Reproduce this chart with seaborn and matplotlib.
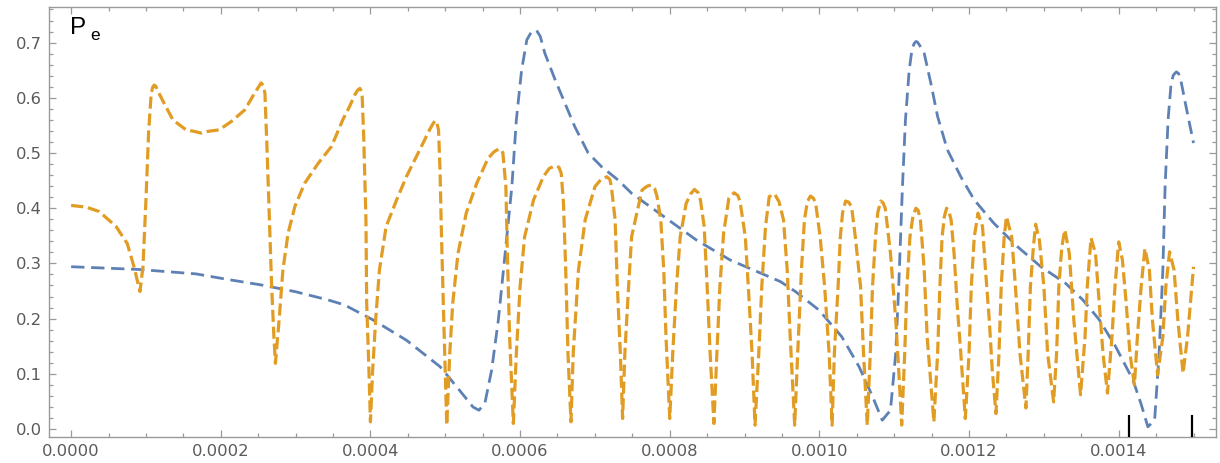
import numpy as np
import matplotlib
matplotlib.use("Agg")
import matplotlib.pyplot as plt
from matplotlib.ticker import MultipleLocator, FormatStrFormatter
import seaborn as sns

# Time axis values are listed in units of 1e-4
SCALE = 1e-4

# Blue curve (smooth, three resonant peaks)
blue_t = [0.00, 0.91, 1.67, 2.09, 2.54, 2.99, 3.43, 3.65, 4.03, 4.48, 4.93, 5.15,
          5.37, 5.45, 5.53, 5.62, 5.71, 5.80, 5.89, 5.95, 6.02, 6.09, 6.15, 6.20, 6.23,
          6.27, 6.33, 6.47, 6.60, 6.73, 6.91, 7.09, 7.31, 7.49, 7.92, 8.36, 8.81, 9.48,
          9.68, 9.99, 10.30, 10.53, 10.71, 10.84, 10.95, 11.02, 11.06, 11.11, 11.15,
          11.20, 11.24, 11.27, 11.29, 11.31, 11.34, 11.40, 11.49, 11.58, 11.71, 11.89,
          12.07, 12.33, 12.65, 12.96, 13.29, 13.52, 13.74, 13.96, 14.19, 14.30, 14.39,
          14.48, 14.54, 14.59, 14.62, 14.66, 14.70, 14.73, 14.77, 14.80, 14.83, 14.90,
          15.00]
blue_p = [0.294, 0.289, 0.281, 0.271, 0.261, 0.249, 0.234, 0.225, 0.198, 0.161, 0.113, 0.077,
          0.040, 0.034, 0.047, 0.107, 0.198, 0.318, 0.439, 0.560, 0.650, 0.705, 0.719, 0.723, 0.720,
          0.711, 0.681, 0.632, 0.590, 0.548, 0.500, 0.475, 0.451, 0.427, 0.385, 0.342, 0.306, 0.267,
          0.249, 0.216, 0.167, 0.113, 0.059, 0.016, 0.034, 0.137, 0.258, 0.439, 0.560,
          0.650, 0.690, 0.699, 0.702, 0.701, 0.695, 0.681, 0.626, 0.566, 0.506, 0.457,
          0.415, 0.373, 0.330, 0.294, 0.264, 0.234, 0.198, 0.149, 0.089, 0.045, 0.004,
          0.016, 0.137, 0.288, 0.439, 0.560, 0.626, 0.641, 0.647, 0.644, 0.632, 0.584,
          0.518]

# Orange curve (fast oscillation)
orange_t = [0.00, 0.20, 0.375, 0.60, 0.75, 0.84, 0.92, 0.96, 1.00, 1.035, 1.07, 1.09, 1.11,
            1.13, 1.16, 1.22, 1.36, 1.535, 1.65, 1.74, 1.82, 1.98, 2.14, 2.32, 2.45, 2.54,
            2.57, 2.59, 2.62, 2.65, 2.68, 2.71, 2.73, 2.78, 2.83, 2.90, 2.99, 3.12, 3.30,
            3.48, 3.63, 3.72, 3.79, 3.83, 3.86, 3.88, 3.89, 3.91, 3.94, 3.95, 3.98, 4.00,
            4.03, 4.07, 4.12, 4.21, 4.35, 4.48, 4.66, 4.79, 4.84, 4.87, 4.89, 4.91, 4.93,
            4.95, 4.98, 5.02, 5.06, 5.10, 5.17, 5.28, 5.42, 5.57, 5.65, 5.71, 5.75, 5.77,
            5.81, 5.83, 5.86, 5.91, 5.95, 6.00, 6.06, 6.18, 6.31, 6.39, 6.47, 6.52, 6.55,
            6.58, 6.61, 6.64, 6.68, 6.71, 6.78, 6.87, 7.00, 7.08, 7.16, 7.20, 7.22, 7.27,
            7.30, 7.34, 7.37, 7.40, 7.45, 7.49, 7.54, 7.63, 7.70, 7.75, 7.80, 7.83, 7.88,
            7.92, 7.95, 8.00, 8.04, 8.09, 8.14, 8.22, 8.28, 8.33, 8.38, 8.41, 8.46, 8.50,
            8.54, 8.59, 8.63, 8.67, 8.72, 8.79, 8.86, 8.91, 8.94, 9.01, 9.05, 9.10, 9.14,
            9.19, 9.23, 9.28, 9.33, 9.40, 9.46, 9.52, 9.57, 9.61, 9.67, 9.71, 9.76, 9.80,
            9.84, 9.88, 9.92, 9.95, 10.01, 10.07, 10.13, 10.17, 10.20, 10.25, 10.28, 10.31,
            10.35, 10.39, 10.43, 10.48, 10.55, 10.59, 10.64, 10.68, 10.71, 10.75, 10.78,
            10.82, 10.85, 10.88, 10.95, 11.02, 11.06, 11.10, 11.14, 11.17, 11.21, 11.25,
            11.29, 11.32, 11.35, 11.40, 11.44, 11.53, 11.58, 11.61, 11.64, 11.67, 11.70,
            11.73, 11.76, 11.80, 11.84, 11.89, 11.95, 12.00, 12.03, 12.07, 12.12, 12.18,
            12.22, 12.27, 12.31, 12.36, 12.40, 12.43, 12.47, 12.50, 12.57, 12.62, 12.68,
            12.76, 12.79, 12.82, 12.86, 12.89, 12.94, 13.00, 13.05, 13.13, 13.17, 13.20,
            13.24, 13.28, 13.34, 13.40, 13.49, 13.55, 13.58, 13.63, 13.69, 13.74, 13.79,
            13.85, 13.91, 13.95, 14.00, 14.05, 14.10, 14.15, 14.21, 14.25, 14.30, 14.35,
            14.41, 14.45, 14.52, 14.59, 14.63, 14.68, 14.74, 14.79, 14.86, 14.92, 15.00]
orange_p = [0.405, 0.402, 0.394, 0.367, 0.336, 0.294, 0.249, 0.294, 0.415, 0.536, 0.608, 0.619, 0.623,
            0.621, 0.612, 0.596, 0.560, 0.542, 0.539, 0.536, 0.539, 0.542, 0.557, 0.578, 0.608, 0.627,
            0.622, 0.608, 0.500, 0.379, 0.258, 0.167, 0.119, 0.198, 0.288, 0.355, 0.403, 0.445, 0.481,
            0.512, 0.560, 0.584, 0.605, 0.614, 0.617, 0.612, 0.602, 0.530, 0.379, 0.228, 0.107, 0.013,
            0.107, 0.198, 0.288, 0.367, 0.415, 0.457, 0.506, 0.542, 0.554, 0.559, 0.553, 0.542, 0.469,
            0.348, 0.198, 0.007, 0.137, 0.228, 0.318, 0.391, 0.445, 0.490, 0.502, 0.507, 0.506, 0.500,
            0.439, 0.318, 0.167, 0.010, 0.137, 0.258, 0.348, 0.415, 0.457, 0.472, 0.477, 0.474, 0.463,
            0.409, 0.288, 0.137, 0.013, 0.137, 0.288, 0.379, 0.439, 0.452, 0.457, 0.452, 0.439, 0.379,
            0.258, 0.137, 0.019, 0.137, 0.258, 0.348, 0.379, 0.433, 0.440, 0.442, 0.435, 0.421, 0.379,
            0.288, 0.167, 0.019, 0.137, 0.258, 0.348, 0.409, 0.426, 0.434, 0.428, 0.415, 0.367, 0.258,
            0.137, 0.010, 0.137, 0.258, 0.355, 0.418, 0.428, 0.423, 0.412, 0.348, 0.258, 0.137, 0.007,
            0.137, 0.258, 0.367, 0.421, 0.426, 0.412, 0.379, 0.288, 0.167, 0.007, 0.137, 0.288, 0.379,
            0.412, 0.422, 0.418, 0.409, 0.348, 0.258, 0.137, 0.007, 0.137, 0.258, 0.348, 0.392,
            0.413, 0.411, 0.403, 0.348, 0.258, 0.137, 0.007, 0.137, 0.258, 0.348, 0.392,
            0.413, 0.410, 0.400, 0.318, 0.198, 0.107, 0.007, 0.137, 0.258, 0.348, 0.385,
            0.400, 0.396, 0.379, 0.290, 0.167, 0.013, 0.137, 0.258, 0.348, 0.385, 0.400,
            0.395, 0.379, 0.318, 0.228, 0.137, 0.019, 0.137, 0.258, 0.348, 0.391, 0.367,
            0.288, 0.198, 0.107, 0.028, 0.137, 0.258, 0.348, 0.385, 0.348, 0.258, 0.137,
            0.038, 0.137, 0.258, 0.330, 0.371, 0.342, 0.258, 0.137, 0.049, 0.137, 0.258,
            0.330, 0.361, 0.318, 0.198, 0.062, 0.167, 0.258, 0.346, 0.318, 0.228, 0.137,
            0.065, 0.167, 0.258, 0.339, 0.306, 0.228, 0.137, 0.080, 0.167, 0.258, 0.327,
            0.288, 0.198, 0.098, 0.167, 0.258, 0.321, 0.288, 0.198, 0.101, 0.167, 0.294]

# Marker positions along the time axis
mark_t = [14.142, 14.98]

x_major = [0.0000, 0.0002, 0.0004, 0.0006, 0.0008, 0.0010, 0.0012, 0.0014]
y_major = [0.0, 0.1, 0.2, 0.3, 0.4, 0.5, 0.6, 0.7]

BLUE = "#5E81B5"
ORANGE = "#E19C24"
FRAME = "#9a9a9a"
LABEL = "#5a5a5a"

sns.set_theme(style="white")
plt.rcParams["font.family"] = ["DejaVu Sans"]

fig = plt.figure(figsize=(12.2, 4.63), dpi=100)
ax = fig.add_axes([0.0399, 0.0555, 0.9568, 0.930])

sns.lineplot(x=np.array(blue_t) * SCALE, y=blue_p, ax=ax, color=BLUE, lw=2.0,
             linestyle=(0, (4.8, 2.4)), sort=False, estimator=None)
sns.lineplot(x=np.array(orange_t) * SCALE, y=orange_p, ax=ax, color=ORANGE, lw=2.3,
             linestyle=(0, (3.8, 1.5)), sort=False, estimator=None)

ax.vlines(np.array(mark_t) * SCALE, -0.015, 0.025, color="black", lw=1.6, zorder=5)

ax.set_xlim(-0.00003, 0.00153)
ax.set_ylim(-0.015, 0.765)

ax.set_xticks(x_major)
ax.set_yticks(y_major)
ax.xaxis.set_major_formatter(FormatStrFormatter("%.4f"))
ax.yaxis.set_major_formatter(FormatStrFormatter("%.1f"))
ax.xaxis.set_minor_locator(MultipleLocator(0.00005))
ax.yaxis.set_minor_locator(MultipleLocator(0.02))

ax.tick_params(which="both", direction="in", top=True, right=True,
               bottom=True, left=True, color=FRAME, width=0.9,
               labelcolor=LABEL, labelsize=11.8)
ax.tick_params(which="major", length=5.2, pad=5)
ax.tick_params(which="minor", length=3.2)
for s in ax.spines.values():
    s.set_color(FRAME)
    s.set_linewidth(1.0)
ax.set_xlabel("")
ax.set_ylabel("")

ax.text(0.0182, 0.976, "P", transform=ax.transAxes, ha="left", va="top",
        fontsize=17.5, color="black", family="Liberation Sans")
ax.text(0.0357, 0.922, "e", transform=ax.transAxes, ha="left", va="baseline",
        fontsize=12.5, color="black", family="Liberation Sans")

fig.savefig("out.png", dpi=100)
